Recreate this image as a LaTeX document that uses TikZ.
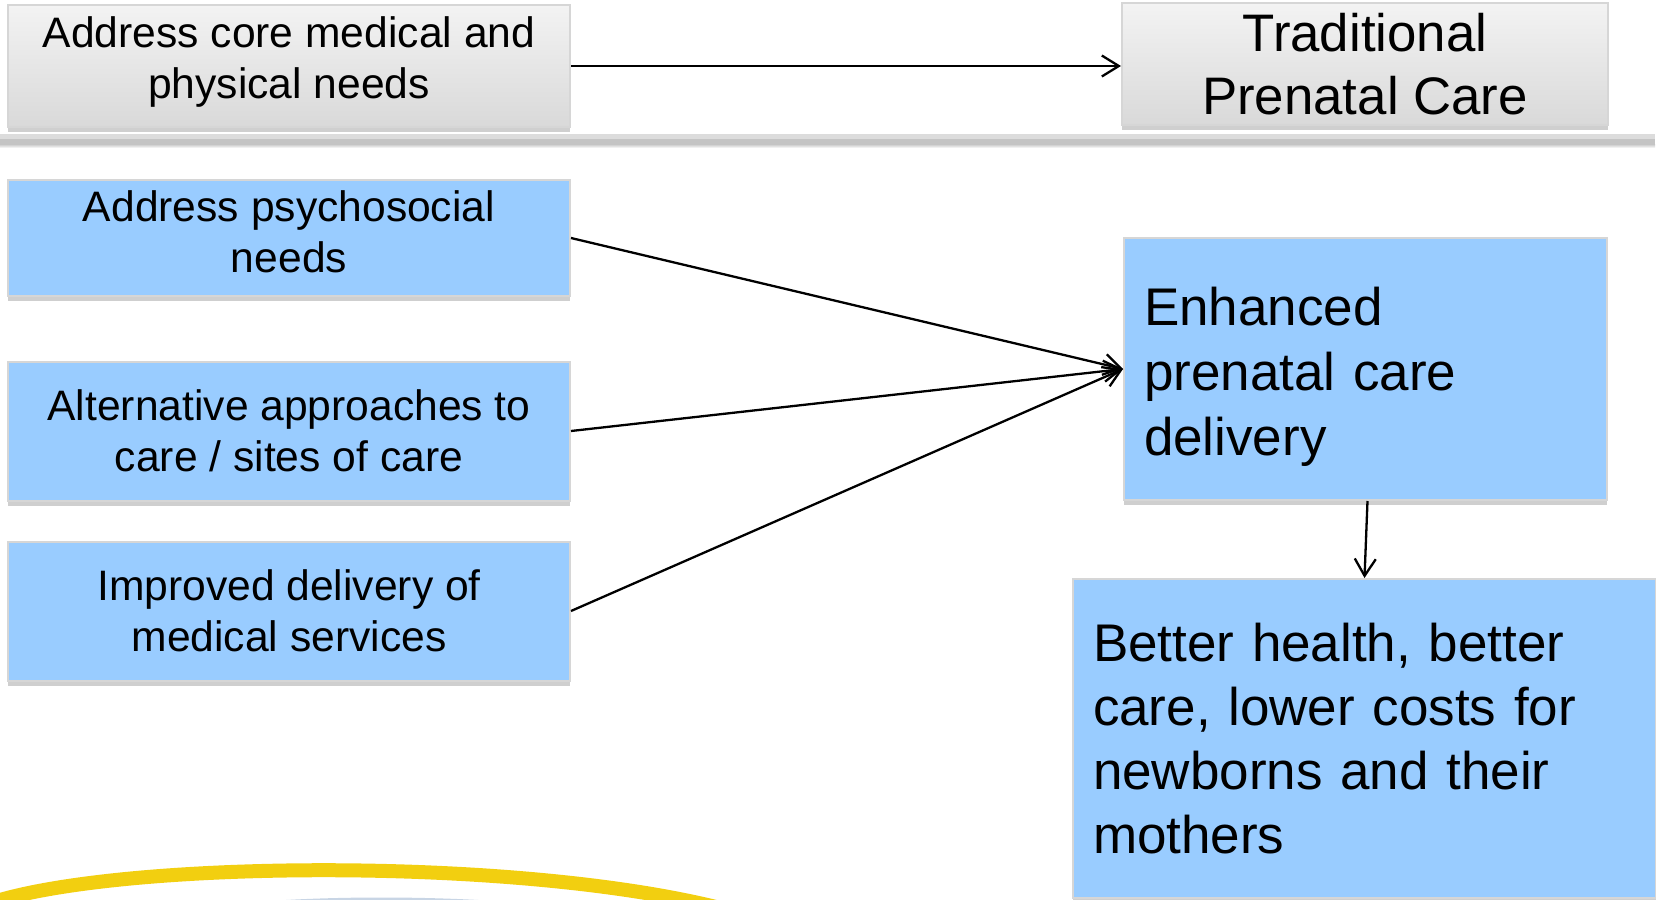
\documentclass[tikz,border=0pt]{standalone}
\usepackage{fontspec}
\setmainfont{Liberation Sans}
\usetikzlibrary{arrows.meta,shadows}

\definecolor{boxblue}{HTML}{99CCFF}
\definecolor{boxedge}{HTML}{D6D6D6}
\definecolor{boxshadow}{HTML}{CFCFCF}
\definecolor{greytop}{HTML}{F3F3F3}
\definecolor{greybot}{HTML}{D9D9D9}
\definecolor{ruletop}{HTML}{DCDCDC}
\definecolor{rulemid}{HTML}{C4C4C4}
\definecolor{arcyellow}{HTML}{F2CF10}
\definecolor{arcblue}{HTML}{C8D5E5}

\tikzset{
  card/.style={rectangle, draw=boxedge, line width=1pt, inner sep=0pt,
    align=center, text=black, font=\fontsize{21.3}{25.5}\selectfont,
    drop shadow={shadow xshift=0pt, shadow yshift=-2.5pt, fill=boxshadow, opacity=1}},
  bluecard/.style={card, fill=boxblue},
  greycard/.style={card, top color=greytop, bottom color=greybot},
  caption/.style={inner sep=0pt, align=center, text=black, font=\fontsize{21.3}{25.5}\selectfont},
  bigtext/.style={font=\fontsize{26.5}{32.5}\selectfont},
  link/.style={-{Straight Barb[length=8.5pt,width=10.5pt]}, line width=1.15pt}
}

\begin{document}
\begin{tikzpicture}[x=0.5pt,y=-0.5pt]
  \useasboundingbox (0,0) rectangle (1656,900);
  \clip (0,0) rectangle (1656,900);

  % top row: traditional care
  \node[greycard, minimum width=281pt, minimum height=61pt] (core) at (289,66) {};
  \node[caption] (core-t) at (289,62) {Address core medical and\\physical needs};
  \node[greycard, minimum width=243pt, minimum height=61pt,
        font=\fontsize{26.4}{31.5}\selectfont] (trad) at (1365,64)
    {Traditional\\Prenatal Care};

  % separator rule
  \fill[ruletop] (0,134) rectangle (1655,139);
  \fill[rulemid] (0,139) rectangle (1655,144);
  \shade[top color=rulemid, bottom color=white] (0,144) rectangle (1655,148);

  % enhanced care inputs
  \node[bluecard, minimum width=281pt, minimum height=58pt] (psy) at (289,238) {};
  \node[caption] (psy-t) at (289,232) {Address psychosocial\\needs};
  \node[bluecard, minimum width=281pt, minimum height=69.5pt] (alt) at (289,431)
    {Alternative approaches to\\care / sites of care};
  \node[bluecard, minimum width=281pt, minimum height=69.5pt] (imp) at (289,611)
    {Improved delivery of\\medical services};

  \node[bluecard, minimum width=241.5pt, minimum height=131pt] (enh) at (1365.5,369) {};
  \node[caption, bigtext, align=left, text width=221.5pt] (enh-t) at (1365.5,377)
    {Enhanced\\prenatal care\\delivery};
  \node[bluecard, align=left, minimum width=291.5pt, minimum height=159.5pt,
        text width=271.5pt, inner xsep=10pt, font=\fontsize{26.5}{32}\selectfont] (better) at (1364.5,738.5)
    {Better health, better\\care, lower costs for\\newborns and their\\mothers};

  % connectors
  \draw[link] (core.east) -- (trad.west |- core.east);
  \draw[link] (psy.east) -- (enh.west);
  \draw[link] (alt.east) -- (enh.west);
  \draw[link] (imp.east) -- (enh.west);
  \draw[link] ([xshift=1pt]enh.south) -- (better.north);

  % decorative arcs at the foot
  \draw[arcyellow, line width=7pt] (0,900) .. controls (140,860) and (520,858) .. (720,908);
  \draw[arcblue, line width=2.5pt] (215,909) .. controls (300,897) and (460,897) .. (555,909);
\end{tikzpicture}
\end{document}
